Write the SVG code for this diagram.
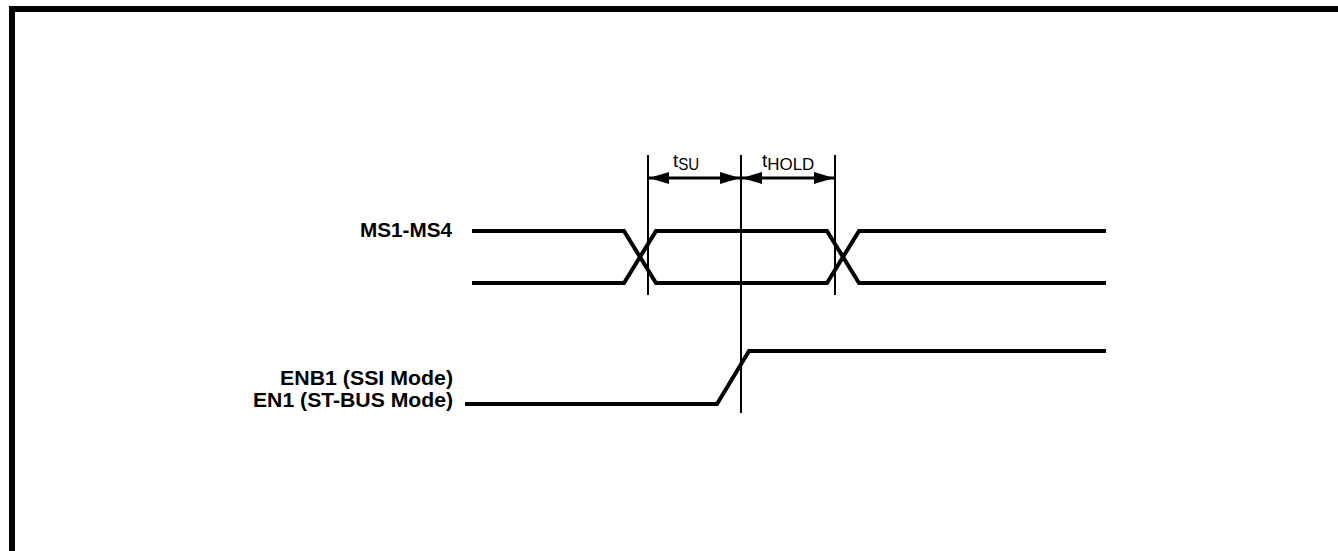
<svg xmlns="http://www.w3.org/2000/svg" width="1338" height="551" viewBox="0 0 1338 551">
<style>
.sig{fill:none;stroke:#000;stroke-width:4;stroke-linejoin:miter}
.ref{fill:none;stroke:#000;stroke-width:2}
.dim{fill:none;stroke:#000;stroke-width:3}
.lbl{font-family:"Liberation Sans",Arial,sans-serif;font-weight:bold;font-size:20.5px;fill:#000}
.tm{font-family:"Liberation Sans",Arial,sans-serif;font-size:19px;fill:#000}
.frame{fill:#000}
</style>
<defs>
<marker id="ah" viewBox="0 0 20 12" refX="20" refY="6" markerWidth="20" markerHeight="12" markerUnits="userSpaceOnUse" orient="auto-start-reverse">
<path d="M0,0 L20,6 L0,12 Z" fill="#000"/>
</marker>
</defs>
<g id="frame">
<rect class="frame" x="9" y="6" width="1329" height="6"/>
<rect class="frame" x="9" y="6" width="6" height="545"/>
</g>
<g id="labels">
<text id="lbl-ms" class="lbl" x="452" y="237" text-anchor="end" textLength="92" lengthAdjust="spacingAndGlyphs">MS1-MS4</text>
<text id="lbl-enb1" class="lbl" x="453" y="385" text-anchor="end" textLength="173" lengthAdjust="spacingAndGlyphs">ENB1 (SSI Mode)</text>
<text id="lbl-en1" class="lbl" x="453" y="407" text-anchor="end" textLength="200" lengthAdjust="spacingAndGlyphs">EN1 (ST-BUS Mode)</text>
</g>
<g id="ms-signal">
<path class="sig" d="M472,231 H624 L656,283 H827 L859,231 H1106"/>
<path class="sig" d="M472,283 H624 L656,231 H827 L859,283 H1106"/>
</g>
<g id="en-signal">
<path class="sig" d="M465,404 H717 L749,351 H1106"/>
</g>
<g id="connectors">
<line class="ref" x1="648" y1="155" x2="648" y2="295"/>
<line class="ref" x1="741" y1="155" x2="741" y2="413"/>
<line class="ref" x1="835" y1="155" x2="835" y2="295"/>
<line class="dim" x1="649" y1="178" x2="740" y2="178" marker-start="url(#ah)" marker-end="url(#ah)"/>
<line class="dim" x1="742" y1="178" x2="834" y2="178" marker-start="url(#ah)" marker-end="url(#ah)"/>
</g>
<g id="timing-labels">
<text id="tsu" class="tm" x="673" y="167">t<tspan font-size="16.5" dy="3" textLength="21" lengthAdjust="spacingAndGlyphs">SU</tspan></text>
<text id="thold" class="tm" x="762" y="167">t<tspan font-size="16.5" dy="3" textLength="47" lengthAdjust="spacingAndGlyphs">HOLD</tspan></text>
</g>
</svg>
